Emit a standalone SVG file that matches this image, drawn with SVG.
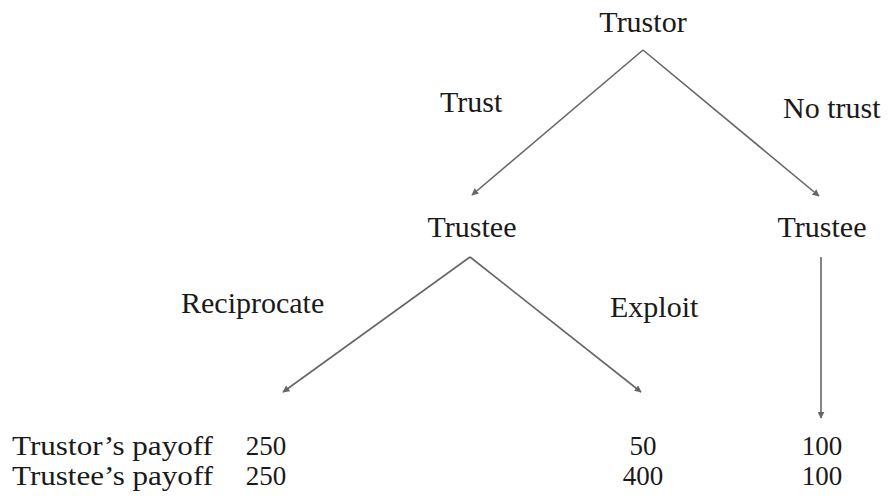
<svg xmlns="http://www.w3.org/2000/svg" width="888" height="504" viewBox="0 0 888 504">
<style>
text{font-family:"Liberation Serif","Times New Roman",serif;font-size:30px;fill:#1a1a1a}
.c{text-anchor:middle}
.p{font-size:27px}
.e{stroke:#666;stroke-width:1.6;fill:none;marker-end:url(#ah)}
</style>
<defs>
<marker id="ah" viewBox="0 0 10 10" refX="9" refY="5" markerWidth="7" markerHeight="7" markerUnits="userSpaceOnUse" orient="auto">
<path d="M0,0 L10,5 L0,10 Z" fill="#666"/>
</marker>
</defs>
<rect width="888" height="504" fill="#fff"/>
<g id="connectors">
<line class="e" x1="643" y1="50" x2="472" y2="195"/>
<line class="e" x1="643" y1="50" x2="819" y2="196"/>
<line class="e" x1="470" y1="257" x2="283" y2="392"/>
<line class="e" x1="470" y1="257" x2="641" y2="392"/>
<line class="e" x1="821" y1="257" x2="821" y2="418"/>
</g>
<g id="labels">
<text x="440" y="112">Trust</text>
<text x="783" y="118">No trust</text>
<text x="181" y="313">Reciprocate</text>
<text x="610" y="317">Exploit</text>
</g>
<g id="trustor"><text class="c" x="643" y="32">Trustor</text></g>
<g id="trustee-left"><text class="c" x="472" y="237">Trustee</text></g>
<g id="trustee-right"><text class="c" x="822" y="237">Trustee</text></g>
<g id="payoff-labels">
<text class="p" x="12" y="455" textLength="201" lengthAdjust="spacingAndGlyphs">Trustor’s payoff</text>
<text class="p" x="12" y="485" textLength="201" lengthAdjust="spacingAndGlyphs">Trustee’s payoff</text>
</g>
<g id="leaf-reciprocate">
<text class="c p" x="266" y="455">250</text>
<text class="c p" x="266" y="485">250</text>
</g>
<g id="leaf-exploit">
<text class="c p" x="643" y="455">50</text>
<text class="c p" x="643" y="485">400</text>
</g>
<g id="leaf-notrust">
<text class="c p" x="822" y="455">100</text>
<text class="c p" x="822" y="485">100</text>
</g>
</svg>
